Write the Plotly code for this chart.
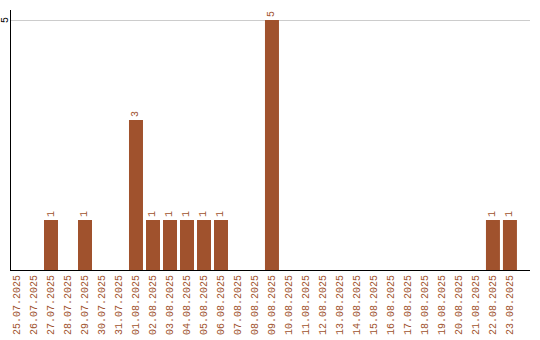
import plotly.graph_objects as go

dates = [
    "25.07.2025", "26.07.2025", "27.07.2025", "28.07.2025", "29.07.2025",
    "30.07.2025", "31.07.2025", "01.08.2025", "02.08.2025", "03.08.2025",
    "04.08.2025", "05.08.2025", "06.08.2025", "07.08.2025", "08.08.2025",
    "09.08.2025", "10.08.2025", "11.08.2025", "12.08.2025", "13.08.2025",
    "14.08.2025", "15.08.2025", "16.08.2025", "17.08.2025", "18.08.2025",
    "19.08.2025", "20.08.2025", "21.08.2025", "22.08.2025", "23.08.2025",
]
counts = [0, 0, 1, 0, 1, 0, 0, 3, 1, 1, 1, 1, 1, 0, 0,
          5, 0, 0, 0, 0, 0, 0, 0, 0, 0, 0, 0, 0, 1, 1]
y_ticks = [5]

BAR = "#A0522D"
FONT = "Liberation Mono"

labels = [str(v) if v else "" for v in counts]

fig = go.Figure(go.Bar(
    x=dates,
    y=counts,
    text=labels,
    textposition="outside",
    textangle=-90,
    textfont=dict(family=FONT, size=10, color=BAR),
    cliponaxis=False,
    marker=dict(color=BAR, line=dict(width=0)),
))

fig.update_layout(
    width=540, height=340,
    margin=dict(l=11, r=10, t=10, b=70),
    paper_bgcolor="white", plot_bgcolor="white",
    bargap=3 / 17,
    showlegend=False,
    font=dict(family=FONT, size=10),
)
fig.update_xaxes(
    type="category",
    range=[-0.353, 30.18],
    tickangle=-90,
    tickfont=dict(family=FONT, size=10, color=BAR),
    showline=True, linecolor="black", linewidth=1,
    showgrid=False, ticks="", ticklen=0,
    automargin=False,
)
fig.update_yaxes(
    range=[0, 5.2],
    tickvals=y_ticks,
    showticklabels=False,
    showline=True, linecolor="black", linewidth=1,
    showgrid=True, gridcolor="#cccccc", gridwidth=1,
    zeroline=False, ticks="", ticklen=0,
    automargin=False,
)

# y tick labels drawn rotated in the narrow left margin
for v in y_ticks:
    fig.add_annotation(
        x=0, xref="paper", y=v, yref="y",
        text=str(v), textangle=-90, showarrow=False,
        xanchor="center", yanchor="middle", xshift=-6,
        font=dict(family=FONT, size=10, color="black"),
    )

fig.write_html("out.html")
